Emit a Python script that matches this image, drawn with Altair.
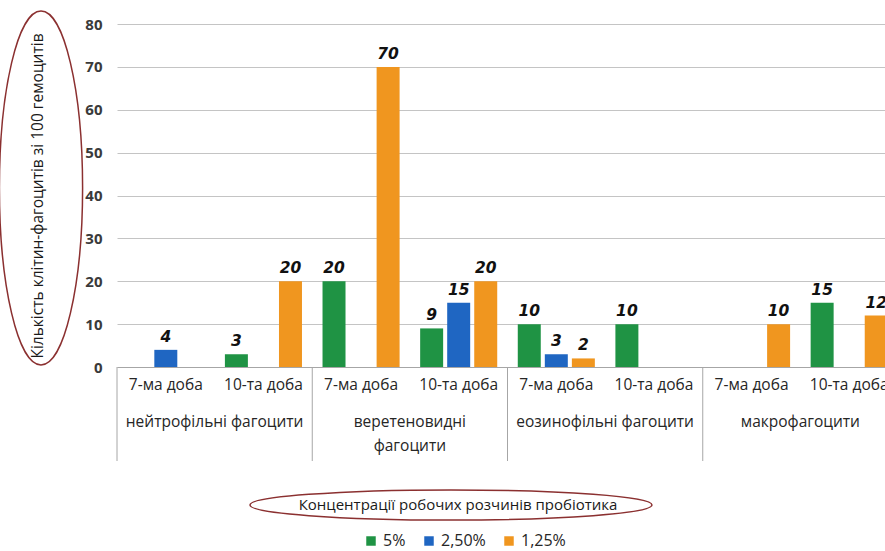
import altair as alt
import pandas as pd

categories = ["нейтрофільні фагоцити", "веретеновидні фагоцити",
              "еозинофільні фагоцити", "макрофагоцити"]
category_labels = ["нейтрофільні фагоцити", "веретеновидні\nфагоцити",
                   "еозинофільні фагоцити", "макрофагоцити"]
days = ["7-ма доба", "10-та доба"]
series = ["5%", "2,50%", "1,25%"]
colors = ["#1f9344", "#1f66c2", "#f0961f"]
values_5 = [0, 3, 20, 9, 10, 10, 0, 15]
values_250 = [4, 0, 0, 15, 3, 0, 0, 0]
values_125 = [0, 20, 70, 20, 2, 0, 10, 12]
y_ticks = [0, 10, 20, 30, 40, 50, 60, 70, 80]
y_title = "Кількість клітин-фагоцитів зі 100  гемоцитів"
x_title = "Концентрації робочих розчинів пробіотика"

groups = [f"{c}|{d}" for c in categories for d in days]
rows = []
for i, g in enumerate(groups):
    for s, vals in zip(series, [values_5, values_250, values_125]):
        rows.append({"group": g, "series": s, "value": vals[i]})
df = pd.DataFrame(rows)

cat_df = pd.DataFrame({"group": [f"{c}|{days[0]}" for c in categories],
                       "label": category_labels})
one = pd.DataFrame({"k": [0]})

FONT = "Open Sans"
xscale = alt.Scale(domain=groups, range=[0, 781], paddingInner=0, paddingOuter=0)
xaxis = alt.Axis(title=None, labelExpr="split(datum.label, '|')[1]", labelFont=FONT,
                 labelFontSize=15.5, labelColor="#262626", labelPadding=10, ticks=False,
                 domainColor="#a6a6a6", grid=False, labelAngle=0)
yscale = alt.Scale(domain=[0, 80])
yaxis = alt.Axis(title=None, values=y_ticks, labelFont=FONT, labelFontSize=15,
                 labelFontWeight="bold", labelColor="#3a3a3a", labelPadding=15,
                 ticks=False, domain=False, grid=True, gridColor="#c4c4c4")
offscale = alt.Scale(domain=series, paddingInner=0.15, paddingOuter=0.38)

bars = alt.Chart(df).mark_bar().encode(
    x=alt.X("group:N", scale=xscale, axis=xaxis, sort=groups),
    xOffset=alt.XOffset("series:N", scale=offscale, sort=series),
    y=alt.Y("value:Q", scale=yscale, axis=yaxis),
    color=alt.Color("series:N", scale=alt.Scale(domain=series, range=colors), sort=series,
                    legend=alt.Legend(title=None, orient="none", legendX=246, legendY=509,
                                      direction="horizontal", symbolType="square",
                                      symbolSize=90, symbolStrokeWidth=0,
                                      labelFont=FONT, labelFontSize=16,
                                      labelColor="#262626", columnPadding=15,
                                      labelOffset=4)),
)

labels = alt.Chart(df).transform_filter("datum.value > 0").mark_text(
    font="DejaVu Sans", fontStyle="italic", fontWeight="bold", fontSize=15.5,
    baseline="bottom", dy=-5, color="#111111"
).encode(
    x=alt.X("group:N", scale=xscale, axis=xaxis, sort=groups),
    xOffset=alt.XOffset("series:N", scale=offscale, sort=series),
    y=alt.Y("value:Q", scale=yscale, axis=yaxis),
    text=alt.Text("value:Q"),
)

dividers = alt.Chart(cat_df).mark_rule(color="#a6a6a6", strokeWidth=1).encode(
    x=alt.X("group:N", scale=xscale, axis=xaxis, sort=groups, bandPosition=0),
    y=alt.value(343), y2=alt.value(437),
)

cat_text = alt.Chart(cat_df).mark_text(
    font=FONT, fontSize=15.5, color="#262626", baseline="top", lineBreak="\n",
    lineHeight=24, align="center"
).encode(
    x=alt.X("group:N", scale=xscale, axis=xaxis, sort=groups, bandPosition=1),
    y=alt.value(391),
    text="label:N",
)

v_path = ("M0,-1 C0.1298,-1 0.235,-0.5523 0.235,0 C0.235,0.5523 0.1298,1 0,1 "
          "C-0.1298,1 -0.235,0.5523 -0.235,0 C-0.235,-0.5523 -0.1298,-1 0,-1 Z")
h_path = ("M-1,0 C-1,-0.0414 -0.5523,-0.075 0,-0.075 C0.5523,-0.075 1,-0.0414 1,0 "
          "C1,0.0414 0.5523,0.075 0,0.075 C-0.5523,0.075 -1,0.0414 -1,0 Z")

y_ell = alt.Chart(one).mark_point(shape=v_path, filled=False, stroke="#8b3030",
                                  strokeWidth=1.5, opacity=1).encode(
    x=alt.value(-76), y=alt.value(164), size=alt.value(125316))
y_txt = alt.Chart(one).mark_text(text=y_title, angle=270, font=FONT, fontSize=15.5,
                                 color="#1a1a1a", align="center", baseline="middle").encode(
    x=alt.value(-79), y=alt.value(172))
x_ell = alt.Chart(one).mark_point(shape=h_path, filled=False, stroke="#8b3030",
                                  strokeWidth=1.5, opacity=1).encode(
    x=alt.value(334), y=alt.value(481), size=alt.value(161604))
x_txt = alt.Chart(one).mark_text(text=x_title, font=FONT, fontSize=15,
                                 color="#1a1a1a", align="center", baseline="middle").encode(
    x=alt.value(341), y=alt.value(481))

chart = alt.layer(bars, labels, dividers, cat_text, y_ell, y_txt, x_ell, x_txt).properties(
    width=768, height=343,
    autosize=alt.AutoSizeParams(type="none"),
    padding={"left": 117, "top": 24, "right": 0, "bottom": 184},
    background="white",
).configure_view(stroke=None)

chart.save("out.html", embed_options={"renderer": "svg", "actions": False})
